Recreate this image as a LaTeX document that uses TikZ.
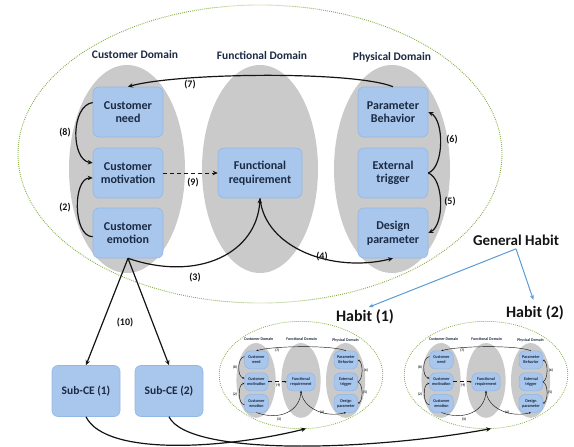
\documentclass[tikz,border=0pt]{standalone}
\usepackage{fontspec}
\setmainfont{Carlito}
\usepackage{tikz}
\usetikzlibrary{arrows.meta,positioning}
\definecolor{cBox}{HTML}{A9C7EC}
\definecolor{cBoxEdge}{HTML}{93B7E4}
\definecolor{cDom}{HTML}{CACACA}
\definecolor{cRing}{HTML}{86AE47}
\definecolor{cInk}{HTML}{1B2A44}
\definecolor{cLine}{HTML}{141414}
\definecolor{cSky}{HTML}{5B9BD5}
\tikzset{
  dbox/.style={draw=cBoxEdge,fill=cBox,rounded corners=6pt,line width=0.6pt,align=center,font=\bfseries\fontsize{12}{13.5}\selectfont,text=cInk,minimum width=70pt,minimum height=50pt,inner sep=2pt},
  subbox/.style={dbox,font=\bfseries\fontsize{11.5}{13}\selectfont,minimum width=68pt,minimum height=51pt},
  domhead/.style={font=\bfseries\fontsize{11.5}{13}\selectfont,text=cInk,inner sep=1pt},
  num/.style={font=\bfseries\fontsize{10}{12}\selectfont,text=cLine,inner sep=1pt},
  hablbl/.style={font=\bfseries\fontsize{16}{18}\selectfont,text=cLine,inner sep=1pt},
  arr/.style={line width=1.2pt,color=cLine},
  arrtip/.style={-{Stealth[length=5pt,width=4.5pt]}},
  ring/.style={draw=cRing,line width=0.9pt,dash pattern=on 0.9pt off 1.1pt},
  garr/.style={-{Stealth[length=5pt,width=4pt]},line width=1pt,color=cSky},
  domains/.pic={
    \draw[ring] (0,0) ellipse [x radius=242,y radius=149];
    \foreach \cx in {-133,0,132}
      \fill[cDom] (\cx,15) ellipse [x radius=58,y radius=104];
    \node[domhead] (-cd) at (-125,-99) {Customer Domain};
    \node[domhead] (-fd) at (2,-99) {Functional Domain};
    \node[domhead] (-pd) at (132,-97) {Physical Domain};
    % customer domain
    \node[dbox] (-need) at (-132,-42) {Customer\\need};
    \node[dbox] (-mot) at (-132,19) {Customer\\motivation};
    \node[dbox] (-emo) at (-132,79) {Customer\\emotion};
    % functional domain
    \node[dbox,minimum width=84pt] (-fr) at (0,19) {Functional\\requirement};
    % physical domain
    \node[dbox] (-pb) at (133,-42) {Parameter\\Behavior};
    \node[dbox] (-et) at (133,19) {External\\trigger};
    \node[dbox] (-dp) at (133,79) {Design\\parameter};
    \draw[arr,arrtip] (-pb.north) .. controls +(-40,-16) and +(50,-14) .. (-need.north);
    \draw[arr,arrtip] (-need.165) .. controls +(-22,3) and +(-22,-3) .. (-mot.164);
    \draw[arr,arrtip] (-emo.186) .. controls +(-20,0) and +(-20,0) .. (-mot.188);
    \draw[arr,arrtip,line width=1pt,dash pattern=on 4pt off 3pt] (-mot.east) -- (-fr.west);
    \draw[arr,arrtip] (-emo.south) .. controls +(70,24) and +(-3,55) .. (-fr.south);
    \draw[arr,arrtip] (-fr.south) .. controls +(5,50) and +(-60,15) .. (-dp.south);
    \draw[arr,arrtip] (-et.east) .. controls +(16,-6) and +(16,8) .. (-pb.east);
    \draw[arr,arrtip] (-et.east) .. controls +(16,6) and +(16,-8) .. (-dp.east);
    \foreach \lx/\ly/\t in {-70/-69/7,-195/-21/8,-195/54/2,-67/29/9,-65/124/3,62/103/4,192/-14/6,190/48/5}
      \node[num] (-l\t) at (\lx,\ly) {(\t)};
    \coordinate (-base) at (15,149);
  },
}

\begin{document}
\begin{tikzpicture}[x=1pt,y=-1pt]
  \useasboundingbox (0,0) rectangle (574,447);
  \pic (m) at (260,154) {domains};
  \pic[xscale=0.338,yscale=0.36,transform shape,arr/.append style={line width=0.45pt},arrtip/.style={-{Stealth[length=2pt,width=1.8pt]}},ring/.append style={line width=0.75pt}] (h1) at (301,375) {domains};
  \pic[xscale=0.338,yscale=0.36,transform shape,arr/.append style={line width=0.45pt},arrtip/.style={-{Stealth[length=2pt,width=1.8pt]}},ring/.append style={line width=0.75pt}] (h2) at (486,375) {domains};

  \node[subbox] (sub1) at (86,391) {Sub-CE (1)};
  \node[subbox] (sub2) at (169,391) {Sub-CE (2)};
  \draw[arr,arrtip] (m-emo.south) -- (sub1.north);
  \draw[arr,arrtip] (m-emo.south) -- (sub2.north);
  \node[num] (l10) at (125,323) {(10)};

  \node[font=\bfseries\fontsize{15}{17}\selectfont,text=cLine] (gh) at (516,240) {General Habit};
  \node[hablbl] (hab1) at (365,317) {Habit (1)};
  \node[hablbl] (hab2) at (535,313) {Habit (2)};
  \draw[garr,shorten >=4pt] (gh.south) -- (hab1.north);
  \draw[garr,shorten >=5pt] (gh.south) -- (hab2.north);

  \draw[arr,arrtip] (sub1.south) .. controls +(20,40) and +(-80,20) .. (h1-base);
  \draw[arr,arrtip] (sub2.south) .. controls +(20,40) and +(-120,22) .. (h2-base);
\end{tikzpicture}
\end{document}
